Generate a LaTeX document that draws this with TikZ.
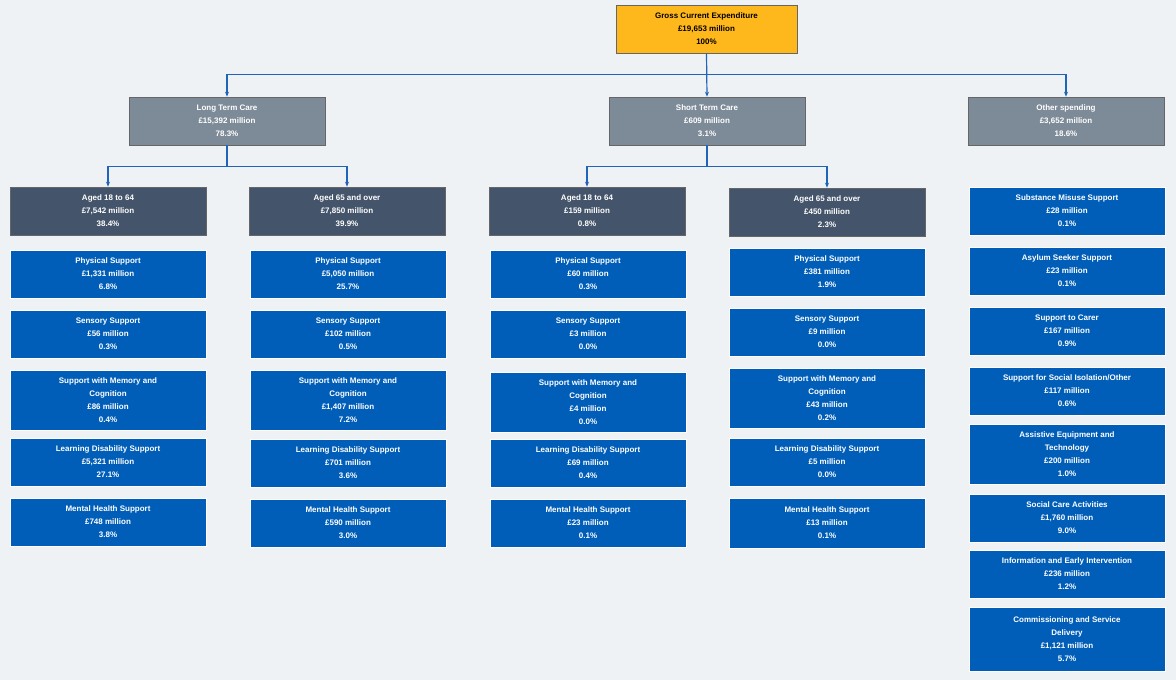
\documentclass[tikz,border=0pt]{standalone}
\usepackage{fontspec}
\setmainfont{Liberation Sans}
\usetikzlibrary{arrows.meta}
\definecolor{bgcol}{HTML}{EEF2F5}
\definecolor{topcol}{HTML}{FFB81C}
\definecolor{greycol}{HTML}{7D8A97}
\definecolor{darkcol}{HTML}{44546A}
\definecolor{bluecol}{HTML}{005EB8}
\definecolor{linecol}{HTML}{1F64B8}
\tikzset{
  box/.style={draw=black!60, line width=0.6pt, minimum width=196pt, minimum height=48pt,
    inner sep=1pt, align=center, text=white, font=\fontsize{8}{13}\selectfont\bfseries},
  top box/.style={box, fill=topcol, text=black, minimum width=181pt},
  grey box/.style={box, fill=greycol},
  dark box/.style={box, fill=darkcol},
  blue box/.style={box, fill=bluecol, draw=white},
  conn/.style={draw=linecol, line width=1.2pt, -{Stealth[length=5pt,width=4pt]}}
}
\begin{document}
\begin{tikzpicture}[x=1pt,y=-1pt]
  \fill[bgcol] (0,0) rectangle (1176,680);
  \useasboundingbox (0,0) rectangle (1176,680);
  % top levels
  \node[top box] (gce) at (706.5,29) {Gross Current Expenditure\\\pounds19,653 million\\100\%};
  \node[grey box] (ltc) at (227,121) {Long Term Care\\\pounds15,392 million\\78.3\%};
  \node[grey box] (stc) at (707,121) {Short Term Care\\\pounds609 million\\3.1\%};
  \node[grey box] (oth) at (1066,121) {Other spending\\\pounds3,652 million\\18.6\%};
  \node[dark box] (lya) at (108,211) {Aged 18 to 64\\\pounds7,542 million\\38.4\%};
  \node[dark box] (lob) at (347,211) {Aged 65 and over\\\pounds7,850 million\\39.9\%};
  \node[dark box] (sya) at (587,211) {Aged 18 to 64\\\pounds159 million\\0.8\%};
  \node[dark box] (sob) at (827,212) {Aged 65 and over\\\pounds450 million\\2.3\%};
  % connectors
  \draw[conn] (gce.south) -- ++(0,21) -| (ltc.north);
  \draw[conn] (gce.south) -- (stc.north);
  \draw[conn] (gce.south) -- ++(0,21) -| (oth.north);
  \draw[conn] (ltc.south) -- ++(0,21) -| (lya.north);
  \draw[conn] (ltc.south) -- ++(0,21) -| (lob.north);
  \draw[conn] (stc.south) -- ++(0,21) -| (sya.north);
  \draw[conn] (stc.south) -- ++(0,21) -| (sob.north);
  % long term, 18 to 64
  \node[blue box] (la1) at (108,274) {Physical Support\\\pounds1,331 million\\6.8\%};
  \node[blue box] (la2) at (108,334) {Sensory Support\\\pounds56 million\\0.3\%};
  \node[blue box, minimum height=60pt] (la3) at (108,400) {Support with Memory and\\Cognition\\\pounds86 million\\0.4\%};
  \node[blue box] (la4) at (108,462) {Learning Disability Support\\\pounds5,321 million\\27.1\%};
  \node[blue box] (la5) at (108,522) {Mental Health Support\\\pounds748 million\\3.8\%};
  % long term, 65 and over
  \node[blue box] (lb1) at (348,274) {Physical Support\\\pounds5,050 million\\25.7\%};
  \node[blue box] (lb2) at (348,334) {Sensory Support\\\pounds102 million\\0.5\%};
  \node[blue box, minimum height=60pt] (lb3) at (348,400) {Support with Memory and\\Cognition\\\pounds1,407 million\\7.2\%};
  \node[blue box] (lb4) at (348,463) {Learning Disability Support\\\pounds701 million\\3.6\%};
  \node[blue box] (lb5) at (348,523) {Mental Health Support\\\pounds590 million\\3.0\%};
  % short term, 18 to 64
  \node[blue box] (sa1) at (588,274) {Physical Support\\\pounds60 million\\0.3\%};
  \node[blue box] (sa2) at (588,334) {Sensory Support\\\pounds3 million\\0.0\%};
  \node[blue box, minimum height=60pt] (sa3) at (588,402) {Support with Memory and\\Cognition\\\pounds4 million\\0.0\%};
  \node[blue box] (sa4) at (588,463) {Learning Disability Support\\\pounds69 million\\0.4\%};
  \node[blue box] (sa5) at (588,523) {Mental Health Support\\\pounds23 million\\0.1\%};
  % short term, 65 and over
  \node[blue box] (sb1) at (827,272) {Physical Support\\\pounds381 million\\1.9\%};
  \node[blue box] (sb2) at (827,332) {Sensory Support\\\pounds9 million\\0.0\%};
  \node[blue box, minimum height=60pt] (sb3) at (827,398) {Support with Memory and\\Cognition\\\pounds43 million\\0.2\%};
  \node[blue box] (sb4) at (827,462) {Learning Disability Support\\\pounds5 million\\0.0\%};
  \node[blue box, minimum height=50pt] (sb5) at (827,523) {Mental Health Support\\\pounds13 million\\0.1\%};
  % other spending
  \node[blue box] (o1) at (1067,211) {Substance Misuse Support\\\pounds28 million\\0.1\%};
  \node[blue box] (o2) at (1067,271) {Asylum Seeker Support\\\pounds23 million\\0.1\%};
  \node[blue box] (o3) at (1067,331) {Support to Carer\\\pounds167 million\\0.9\%};
  \node[blue box] (o4) at (1067,391) {Support for Social Isolation/Other\\\pounds117 million\\0.6\%};
  \node[blue box, minimum height=60pt] (o5) at (1067,454) {Assistive Equipment and\\Technology\\\pounds200 million\\1.0\%};
  \node[blue box] (o6) at (1067,518) {Social Care Activities\\\pounds1,760 million\\9.0\%};
  \node[blue box] (o7) at (1067,574) {Information and Early Intervention\\\pounds236 million\\1.2\%};
  \node[blue box, minimum height=64pt] (o8) at (1067,639) {Commissioning and Service\\Delivery\\\pounds1,121 million\\5.7\%};
\end{tikzpicture}
\end{document}
